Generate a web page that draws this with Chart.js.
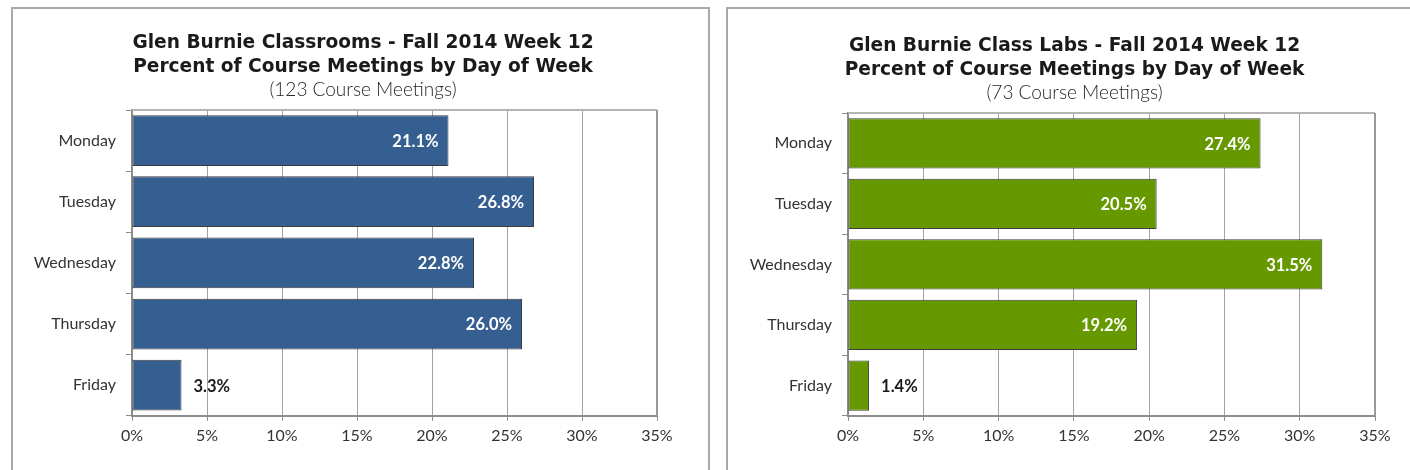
<!DOCTYPE html>
<html>
<head>
<meta charset="utf-8">
<script src="https://cdn.jsdelivr.net/npm/chart.js@4.4.1/dist/chart.umd.min.js"></script>
<style>
  html, body { margin: 0; padding: 0; background: #fff; overflow: hidden; }
  body { width: 1410px; height: 470px; position: relative; }
  .panel { position: absolute; border: 2px solid #a9a9a9; border-bottom: none; box-sizing: border-box; }
  .wrap { position: absolute; }
</style>
</head>
<body>
<div class="panel" style="left:11px; top:7px; width:699px; height:480px;"></div>
<div class="panel" style="left:726px; top:7px; width:700px; height:480px;"></div>
<div class="wrap" style="left:12px; top:0; width:702px; height:470px;"><canvas id="classrooms"></canvas></div>
<div class="wrap" style="left:727px; top:0; width:695px; height:470px;"><canvas id="labs"></canvas></div>
<script>
// Days of the week shown on the vertical axis
const days = ['Monday', 'Tuesday', 'Wednesday', 'Thursday', 'Friday'];

// Percent of course meetings per day
const classroomPct = [21.1, 26.8, 22.8, 26.0, 3.3];
const labPct = [27.4, 20.5, 31.5, 19.2, 1.4];

// Horizontal axis ticks (percent)
const pctTicks = [0, 5, 10, 15, 20, 25, 30, 35];

const classroomTitle = ['Glen Burnie Classrooms - Fall 2014 Week 12', 'Percent of Course Meetings by Day of Week'];
const classroomSub = '(123 Course Meetings)';
const labTitle = ['Glen Burnie Class Labs - Fall 2014 Week 12', 'Percent of Course Meetings by Day of Week'];
const labSub = '(73 Course Meetings)';

const FONT = "Lato, 'Open Sans', 'DejaVu Sans', sans-serif";
const TITLE_FONT = "'DejaVu Sans', Lato, sans-serif";

// Frame the plot area on the top and right sides
const plotFrame = {
  id: 'plotFrame',
  beforeDatasetsDraw(chart) {
    const { ctx, chartArea: a } = chart;
    ctx.save();
    ctx.strokeStyle = '#b4b4b4';
    ctx.lineWidth = 2;
    ctx.beginPath();
    ctx.moveTo(a.left, a.top);
    ctx.lineTo(a.right, a.top);
    ctx.stroke();
    ctx.strokeStyle = '#9a9a9a';
    ctx.beginPath();
    ctx.moveTo(a.right, a.top);
    ctx.lineTo(a.right, a.bottom);
    ctx.stroke();
    ctx.restore();
  }
};

// Value labels: inside the bar end, or just outside for short bars
const valueLabels = {
  id: 'valueLabels',
  afterDatasetsDraw(chart) {
    const { ctx } = chart;
    const meta = chart.getDatasetMeta(0);
    const data = chart.data.datasets[0].data;
    ctx.save();
    ctx.font = "bold 16.5px " + FONT;
    ctx.textBaseline = 'middle';
    meta.data.forEach((bar, i) => {
      const txt = data[i].toFixed(1) + '%';
      const w = bar.x - bar.base;
      if (w > 60) {
        ctx.fillStyle = '#ffffff';
        ctx.textAlign = 'right';
        ctx.fillText(txt, bar.x - 10, bar.y + 1);
      } else {
        ctx.fillStyle = '#1a1a1a';
        ctx.textAlign = 'left';
        ctx.fillText(txt, bar.x + 12, bar.y + 1);
      }
    });
    ctx.restore();
  }
};

// rightGap: blank margin right of the plot, so the titles sit centred on the panel
function makeChart(id, values, color, title, sub, pad, rightGap) {
  return new Chart(document.getElementById(id), {
    type: 'bar',
    data: {
      labels: days,
      datasets: [{
        data: values,
        backgroundColor: color,
        borderColor: '#3c3c3c',
        borderWidth: 1,
        borderSkipped: false,
        barPercentage: 0.83,
        categoryPercentage: 1.0
      }]
    },
    options: {
      indexAxis: 'y',
      responsive: true,
      maintainAspectRatio: false,
      animation: false,
      layout: { padding: pad },
      plugins: {
        legend: { display: false },
        tooltip: { enabled: false },
        title: {
          display: true,
          text: title,
          color: '#1a1a1a',
          font: { family: TITLE_FONT, size: 18.6, weight: 'bold', lineHeight: 24 / 18.6 },
          padding: { top: 0, bottom: 0 }
        },
        subtitle: {
          display: true,
          text: sub,
          color: '#262626',
          font: { family: FONT, size: 19, weight: '300', lineHeight: 20 / 19 },
          padding: { top: 1, bottom: 10 }
        }
      },
      scales: {
        x: {
          type: 'linear',
          min: 0,
          max: 35,
          afterBuildTicks(scale) { scale.ticks = pctTicks.map(v => ({ value: v })); },
          ticks: {
            callback: v => v + '%',
            color: '#333333',
            font: { family: FONT, size: 16 },
            padding: 5
          },
          grid: {
            color: '#a4a4a4',
            borderDash: [1, 2],
            tickBorderDash: [],
            tickColor: '#8c8c8c',
            tickLength: 5,
            lineWidth: 1
          },
          border: { display: true, color: '#8c8c8c', width: 2 }
        },
        y: {
          afterFit(scale) { scale.width = 110; },
          ticks: {
            color: '#333333',
            font: { family: FONT, size: 16 },
            padding: 10
          },
          grid: {
            drawOnChartArea: false,
            drawTicks: true,
            tickLength: 6,
            tickColor: '#8c8c8c',
            offset: true
          },
          border: { display: true, color: '#8c8c8c', width: 2 }
        },
        gap: {
          type: 'linear',
          position: 'right',
          display: true,
          afterFit(scale) { scale.width = rightGap; },
          ticks: { display: false },
          grid: { display: false, drawTicks: false },
          border: { display: false }
        }
      }
    },
    plugins: [plotFrame, valueLabels]
  });
}

makeChart('classrooms', classroomPct, '#365f91', classroomTitle, classroomSub,
  { top: 31, left: 10, right: 10, bottom: 20 }, 47);
makeChart('labs', labPct, '#669900', labTitle, labSub,
  { top: 34, left: 11, right: 11, bottom: 20 }, 36);
</script>
</body>
</html>
